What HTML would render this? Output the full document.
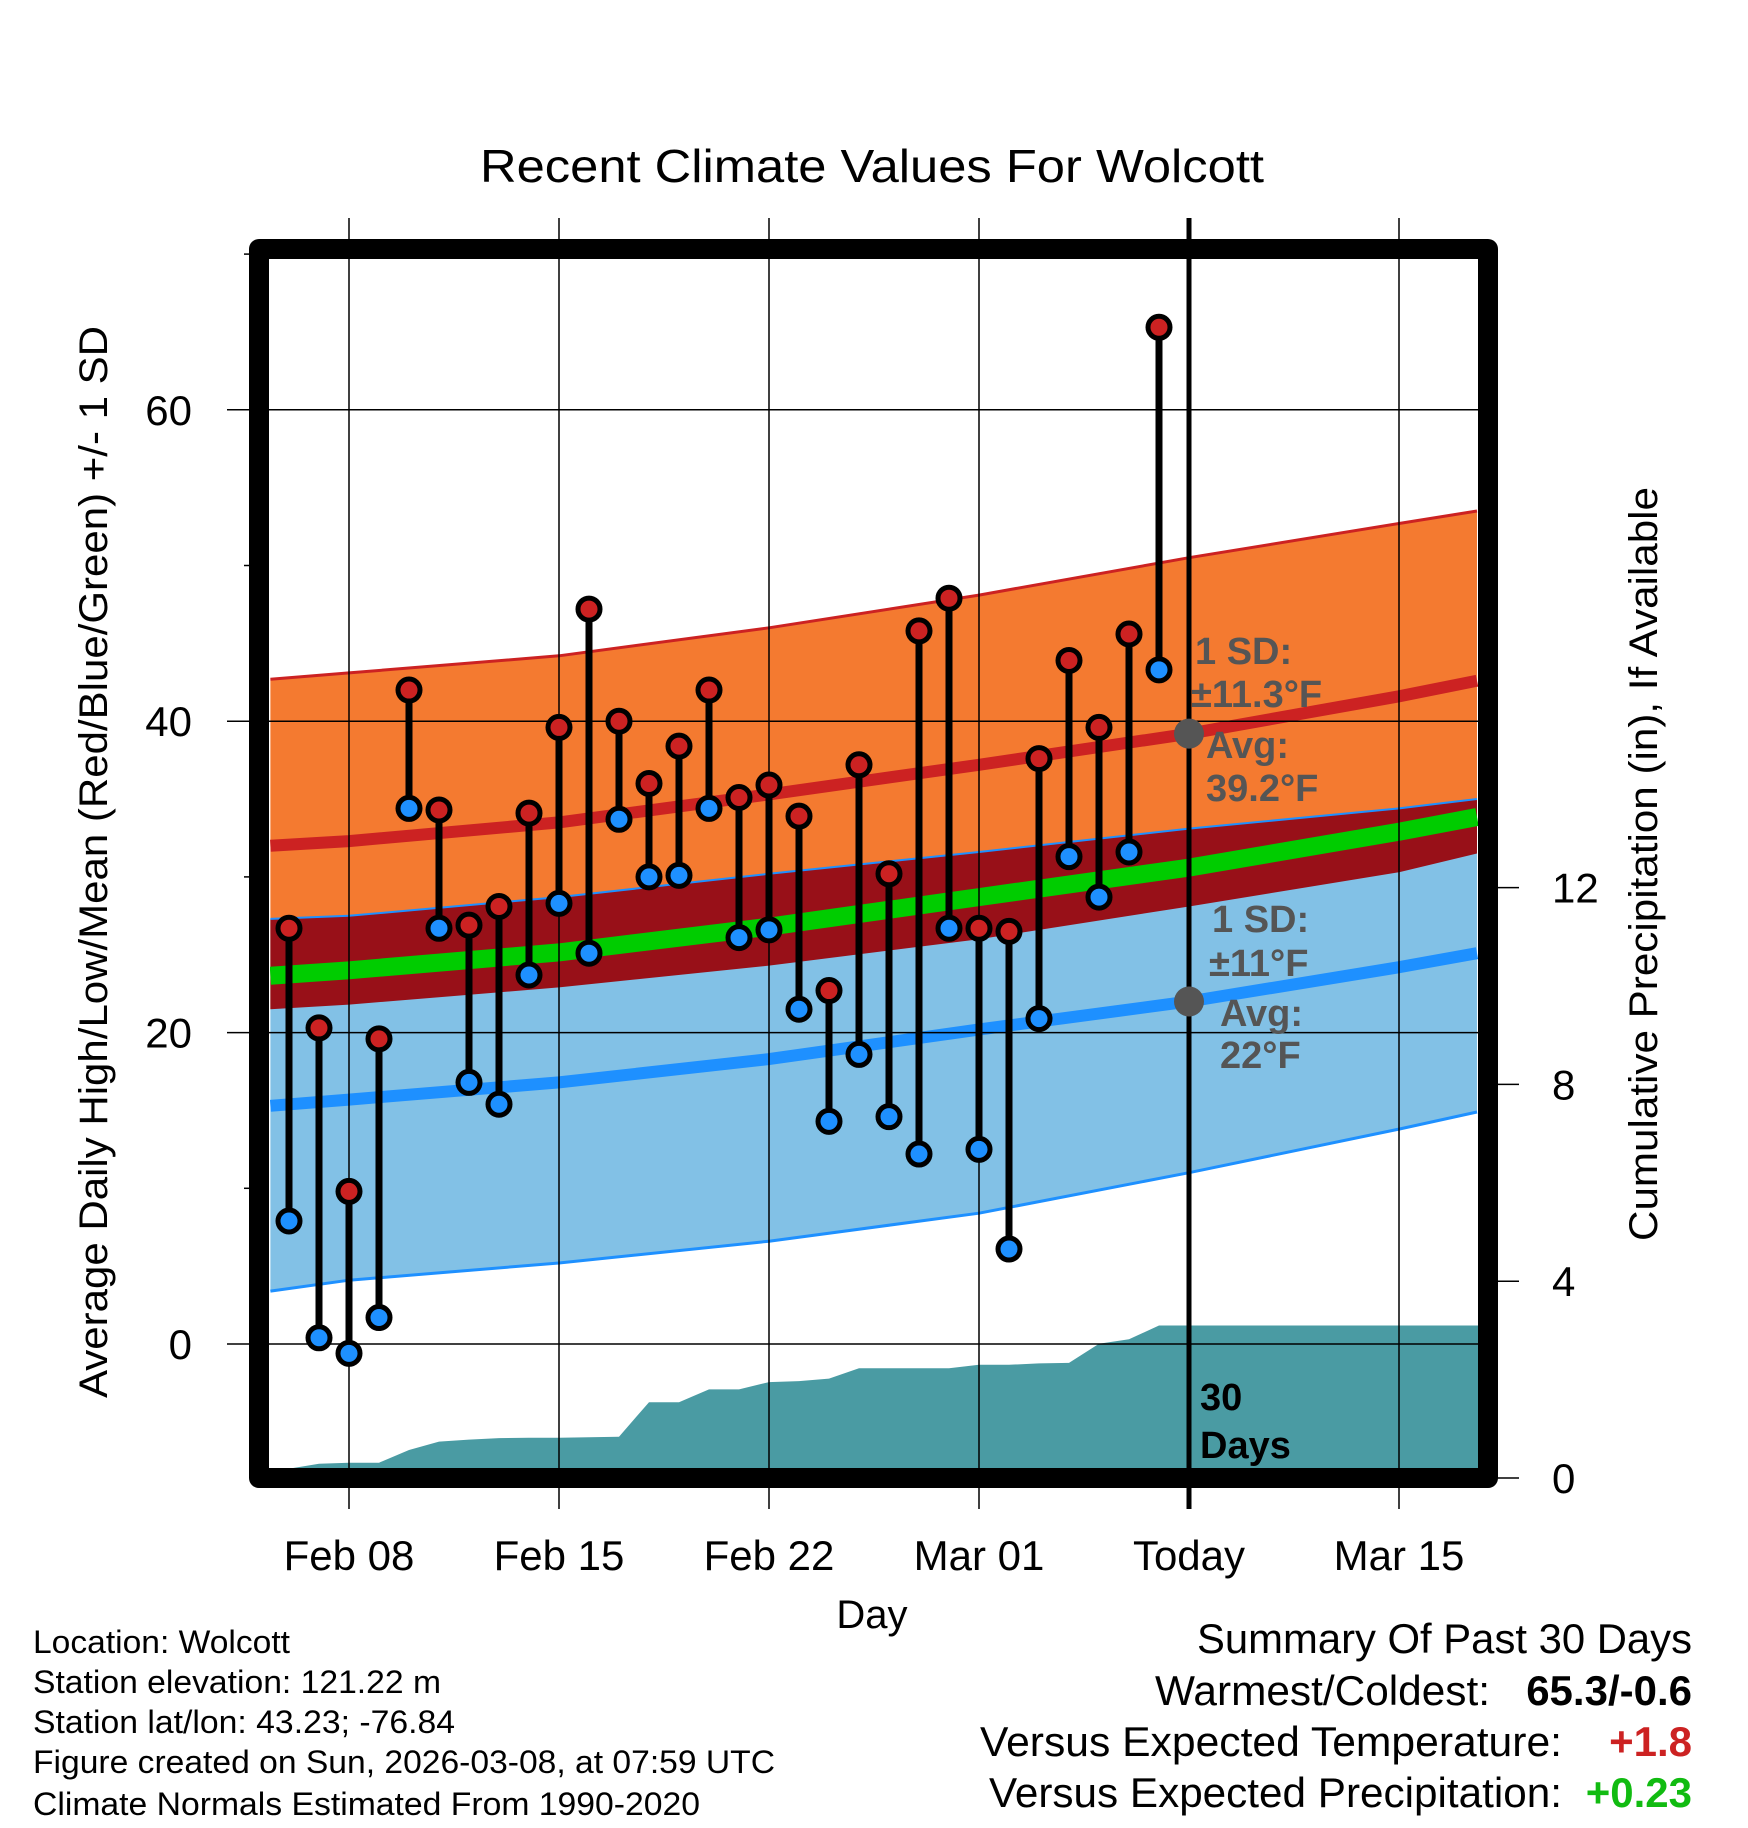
<!DOCTYPE html>
<html><head><meta charset="utf-8">
<style>
html,body{margin:0;padding:0;background:#fff;}
svg{display:block;font-family:"Liberation Sans",Arial,sans-serif;}
</style></head>
<body>
<svg id="chart" width="1748" height="1828" viewBox="0 0 1748 1828" xmlns="http://www.w3.org/2000/svg">
<defs><clipPath id="plotclip"><rect x="270" y="260" width="1208" height="1208"/></clipPath></defs>
<text x="872" y="182" font-size="46" text-anchor="middle" textLength="784" lengthAdjust="spacingAndGlyphs">Recent Climate Values For Wolcott</text>
<g id="bands" clip-path="url(#plotclip)"></g>
<g id="grid"></g>
<g id="marks" clip-path="url(#plotclip)"></g>
<g id="ann"></g>
<rect x="259" y="249" width="1229" height="1229" fill="none" stroke="#000" stroke-width="20" stroke-linejoin="round"/>
<g id="axes"></g>
<text transform="translate(107,862) rotate(-90)" font-size="40" text-anchor="middle" textLength="1072" lengthAdjust="spacingAndGlyphs">Average Daily High/Low/Mean (Red/Blue/Green) +/- 1 SD</text>
<text transform="translate(1657,864) rotate(-90)" font-size="40" text-anchor="middle" textLength="754" lengthAdjust="spacingAndGlyphs">Cumulative Precipitation (in), If Available</text>
<text x="872" y="1628" font-size="40" text-anchor="middle">Day</text>
<g font-size="32">
<text x="33" y="1653" textLength="257" lengthAdjust="spacingAndGlyphs">Location: Wolcott</text>
<text x="33" y="1693" textLength="408" lengthAdjust="spacingAndGlyphs">Station elevation: 121.22 m</text>
<text x="33" y="1733" textLength="422" lengthAdjust="spacingAndGlyphs">Station lat/lon: 43.23; -76.84</text>
<text x="33" y="1773" textLength="742" lengthAdjust="spacingAndGlyphs">Figure created on Sun, 2026-03-08, at 07:59 UTC</text>
<text x="33" y="1815" textLength="667" lengthAdjust="spacingAndGlyphs">Climate Normals Estimated From 1990-2020</text>
</g>
<g font-size="42">
<text x="1692" y="1653" text-anchor="end" textLength="495" lengthAdjust="spacingAndGlyphs">Summary Of Past 30 Days</text>
<text x="1490" y="1705" text-anchor="end" textLength="335" lengthAdjust="spacingAndGlyphs">Warmest/Coldest:</text>
<text x="1692" y="1705" text-anchor="end" font-weight="bold">65.3/-0.6</text>
<text x="1562" y="1756" text-anchor="end" textLength="582" lengthAdjust="spacingAndGlyphs">Versus Expected Temperature:</text>
<text x="1692" y="1756" text-anchor="end" font-weight="bold" fill="#CC2222">+1.8</text>
<text x="1562" y="1807" text-anchor="end" textLength="573" lengthAdjust="spacingAndGlyphs">Versus Expected Precipitation:</text>
<text x="1692" y="1807" text-anchor="end" font-weight="bold" fill="#11BB11">+0.23</text>
</g>
</svg>
<script>
// ---- data ----
const dayLabels = ["Feb 06","Feb 07","Feb 08","Feb 09","Feb 10","Feb 11","Feb 12","Feb 13","Feb 14","Feb 15","Feb 16","Feb 17","Feb 18","Feb 19","Feb 20","Feb 21","Feb 22","Feb 23","Feb 24","Feb 25","Feb 26","Feb 27","Feb 28","Mar 01","Mar 02","Mar 03","Mar 04","Mar 05","Mar 06","Mar 07"];
const dayIndex = [-2,-1,0,1,2,3,4,5,6,7,8,9,10,11,12,13,14,15,16,17,18,19,20,21,22,23,24,25,26,27];
const highs = [26.7,20.3,9.8,19.6,42.0,34.3,26.9,28.1,34.1,39.6,47.2,40.0,36.0,38.4,42.0,35.1,35.9,33.9,22.7,37.2,30.2,45.8,47.9,26.7,26.5,37.6,43.9,39.6,45.6,65.3];
const lows = [7.9,0.4,-0.6,1.7,34.4,26.7,16.8,15.4,23.7,28.3,25.1,33.7,30.0,30.1,34.4,26.1,26.6,21.5,14.3,18.6,14.6,12.2,26.7,12.5,6.1,20.9,31.3,28.7,31.6,43.3];
const precip = [0.19,0.29,0.31,0.31,0.57,0.74,0.78,0.81,0.82,0.82,0.83,0.84,1.54,1.54,1.80,1.80,1.95,1.97,2.02,2.23,2.23,2.23,2.23,2.30,2.30,2.33,2.34,2.73,2.82,3.10];
const normDays = [-2.62,0,7,14,21,28,35,37.6];
const highAvg = [32.0,32.3,33.5,35.3,37.2,39.2,41.6,42.6];
const highUpper = [42.7,43.1,44.2,46.0,48.1,50.5,52.7,53.5];
const highLower = [21.5,21.8,22.9,24.3,26.0,28.1,30.3,31.5];
const lowAvg = [15.3,15.7,16.8,18.3,20.2,22.0,24.2,25.1];
const lowUpper = [27.3,27.5,28.7,30.2,31.6,33.1,34.4,35.0];
const lowLower = [3.4,4.1,5.2,6.6,8.4,11.0,13.8,14.9];
const xTickDays = [0,7,14,21,28,35];
const xTickLabels = ["Feb 08","Feb 15","Feb 22","Mar 01","Today","Mar 15"];
const yTicks = [0,20,40,60];
const yMinor = [10,30,50,70];
const pTicks = [0,4,8,12];
const todayDay = 28, todayHighAvg = 39.2, todayLowAvg = 22.0;

// ---- scales ----
const X = d => 349 + 30*d;
const Y = v => 1344 - 15.57*v;
const P = v => 1478 - 49.2*v;
const NS = "http://www.w3.org/2000/svg";
function mk(tag, attrs, parent){const e=document.createElementNS(NS,tag);for(const k in attrs)e.setAttribute(k,attrs[k]);parent.appendChild(e);return e;}
const bands=document.getElementById('bands'), grid=document.getElementById('grid'), marks=document.getElementById('marks'), axes=document.getElementById('axes'), ann=document.getElementById('ann');
const line = arr => normDays.map((d,i)=>X(d).toFixed(1)+','+Y(arr[i]).toFixed(1)).join(' L');
const band = (up,lo) => 'M'+line(up)+' L'+normDays.map((d,i)=>[d,i]).reverse().map(([d,i])=>X(d).toFixed(1)+','+Y(lo[i]).toFixed(1)).join(' L')+' Z';

let e;
e=mk('path',{d:band(highUpper,highLower),fill:'#F47A30'},bands);

e=mk('path',{d:band(lowUpper,lowLower),fill:'#82C1E6'},bands);

e=mk('path',{d:band(lowUpper,highLower),fill:'#981018'},bands);

e=mk('path',{d:'M'+line(highUpper),fill:'none',stroke:'#CC2222','stroke-width':3},bands);

e=mk('path',{d:'M'+line(lowUpper),fill:'none',stroke:'#1E90FF','stroke-width':2},bands);

e=mk('path',{d:'M'+line(lowLower),fill:'none',stroke:'#1E90FF','stroke-width':3},bands);

const meanArr = highAvg.map((h,i)=>(h+lowAvg[i])/2);
e=mk('path',{d:'M'+line(meanArr),fill:'none',stroke:'#00CC00','stroke-width':18},bands);

e=mk('path',{d:'M'+line(highAvg),fill:'none',stroke:'#CC2222','stroke-width':12},bands);

e=mk('path',{d:'M'+line(lowAvg),fill:'none',stroke:'#1E90FF','stroke-width':12},bands);

// precip
let pd='M270,1478 L270,'+P(precip[0]).toFixed(1);
dayIndex.forEach((d,i)=>{pd+=' L'+X(d)+','+P(precip[i]).toFixed(1);});
pd+=' L1478,'+P(precip[precip.length-1]).toFixed(1)+' L1478,1478 Z';
e=mk('path',{d:pd,fill:'#4A9BA3'},bands);


// grid
xTickDays.forEach((d,i)=>{
  e=mk('line',{x1:X(d),x2:X(d),y1:218,y2:1509,stroke:'#000','stroke-width':i==4?5:1.5},grid);
  
  e=mk('text',{x:X(d),y:1570,'font-size':42,'text-anchor':'middle'},axes);
  e.textContent=xTickLabels[i];
  
});
yTicks.forEach(v=>{
  e=mk('line',{x1:227,x2:1478,y1:Y(v),y2:Y(v),stroke:'#000','stroke-width':1.5},grid);
  
  e=mk('text',{x:192,y:Y(v)+15,'font-size':42,'text-anchor':'end'},axes);
  e.textContent=v;
  
});
yMinor.forEach(v=>{
  e=mk('line',{x1:244,x2:255,y1:Y(v),y2:Y(v),stroke:'#000','stroke-width':1.5},axes);
  
});
pTicks.forEach(v=>{
  e=mk('line',{x1:1490,x2:1519,y1:P(v),y2:P(v),stroke:'#000','stroke-width':1.5},axes);
  
  e=mk('text',{x:1552,y:P(v)+15,'font-size':42,'text-anchor':'start'},axes);
  e.textContent=v;
  
});

// stems and markers
dayIndex.forEach((d,i)=>{
  e=mk('line',{x1:X(d),x2:X(d),y1:Y(highs[i]),y2:Y(lows[i]),stroke:'#000','stroke-width':7},marks);
  
});
dayIndex.forEach((d,i)=>{
  e=mk('circle',{cx:X(d),cy:Y(highs[i]),r:11,fill:'#CC2222',stroke:'#000','stroke-width':5},marks);
  
  e=mk('circle',{cx:X(d),cy:Y(lows[i]),r:11,fill:'#1E90FF',stroke:'#000','stroke-width':5},marks);
  
});

// annotations
e=mk('circle',{cx:X(todayDay),cy:Y(todayHighAvg),r:15,fill:'#555'},ann);

e=mk('circle',{cx:X(todayDay),cy:Y(todayLowAvg),r:15,fill:'#555'},ann);

const notes=[[1195,664,'1 SD:'],[1191,707,'±11.3°F'],[1206,758,'Avg:'],[1206,801,'39.2°F'],[1212,932,'1 SD:'],[1209,976,'±11°F'],[1220,1026,'Avg:'],[1220,1068,'22°F']];
notes.forEach(n=>{
  e=mk('text',{x:n[0],y:n[1],'font-size':38,'font-weight':'bold',fill:'#555'},ann);
  e.textContent=n[2];
  
});
e=mk('text',{x:1200,y:1410,'font-size':38,'font-weight':'bold',fill:'#000'},ann);
e.textContent='30';

e=mk('text',{x:1200,y:1458,'font-size':38,'font-weight':'bold',fill:'#000'},ann);
e.textContent='Days';

</script>
</body></html>
